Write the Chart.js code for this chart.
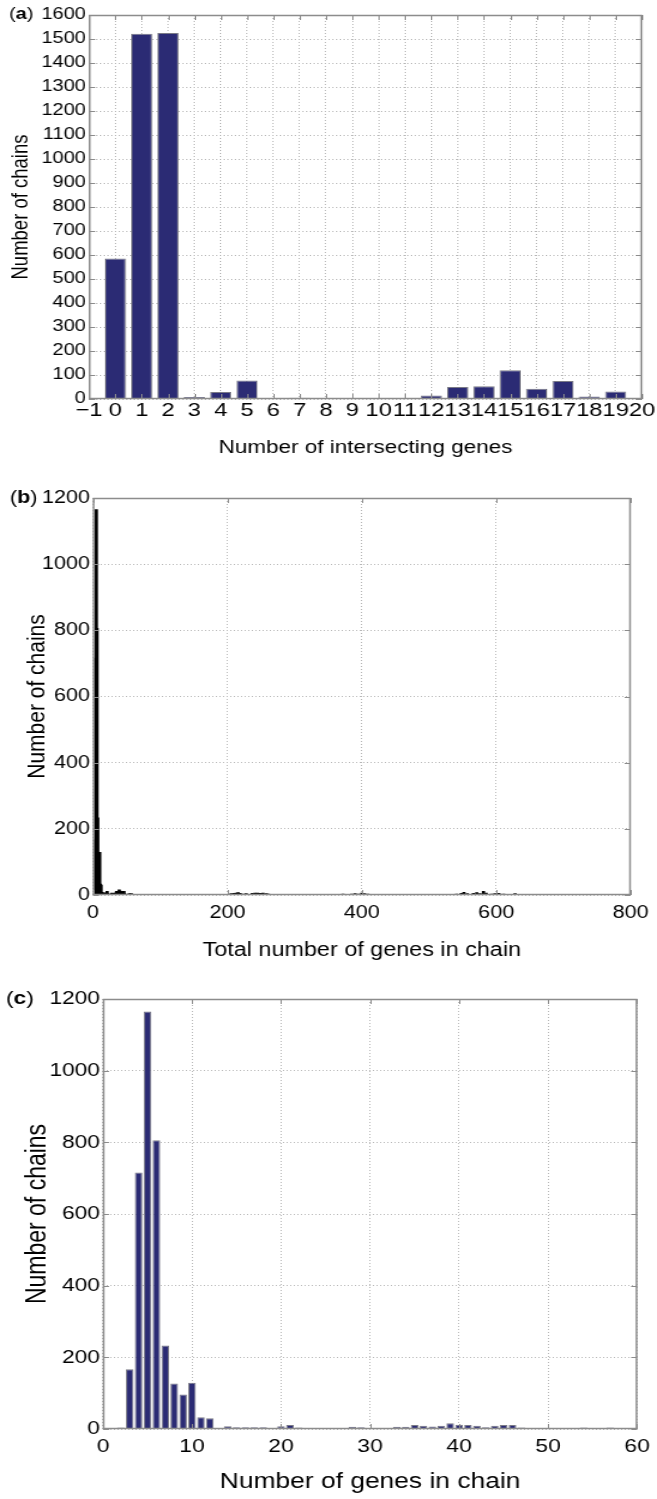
<!DOCTYPE html>
<html>
<head>
<meta charset="utf-8">
<script src="https://cdn.jsdelivr.net/npm/chart.js@4.4.1/dist/chart.umd.min.js"></script>
<style>
  body { margin: 0; background: #fff; }
  #page { position: relative; width: 657px; height: 1499px; }
  /* the original figure is stretched horizontally, so each canvas is drawn narrow and widened by CSS */
  canvas { position: absolute; left: 0; width: 657px; }
</style>
</head>
<body>
<div id="page">
  <canvas id="chart-a" width="526" height="470" style="top:0px; width:657px; height:470px"></canvas>
  <canvas id="chart-b" width="548" height="500" style="top:470px; width:657px; height:500px"></canvas>
  <canvas id="chart-c" width="548" height="529" style="top:970px; width:657px; height:529px"></canvas>
</div>
<script>
//////////////////////////////////////////////////
// Data

// (a) chains by number of intersecting genes
const intersectGenes = [0, 1, 2, 3, 4, 5, 6, 7, 8, 9, 10, 11, 12, 13, 14, 15, 16, 17, 18, 19, 20]
const intersectChains = [585, 1522, 1525, 8, 29, 77, 0, 5, 0, 0, 0, 0, 15, 50, 53, 120, 43, 75, 10, 31, 4]

// (c) chains by number of genes in chain (also the left part of (b))
const chainGenes = [2, 3, 4, 5, 6, 7, 8, 9, 10, 11, 12, 13, 14, 15, 16, 17, 18, 19, 20, 21, 22, 23, 24, 25, 26, 27, 28, 29,
  30, 31, 32, 33, 34, 35, 36, 37, 38, 39, 40, 41, 42, 43, 44, 45, 46, 47, 48, 49, 50, 51, 52, 53, 54, 55, 56, 57]
const chainCounts = [4, 167, 716, 1165, 806, 233, 127, 96, 129, 33, 30, 3, 8, 5, 5, 5, 5, 0, 8, 11, 4, 3, 0, 0, 0, 0, 6, 5,
  0, 0, 1, 6, 6, 11, 9, 7, 9, 16, 12, 11, 9, 5, 9, 11, 11, 4, 1, 2, 1, 1, 2, 2, 4, 1, 2, 4]

// (b) long tail of total number of genes in chain
const tailGenes = [168, 184, 203, 206, 210, 213, 216, 219, 224, 228, 237, 241, 245, 249, 253, 258, 261, 274, 280, 285,
  366, 372, 378, 385, 390, 395, 400, 404, 409, 415, 423, 432, 437,
  541, 548, 552, 557, 566, 571, 576, 581, 585, 593, 598, 604, 611, 618, 628, 646, 650]
const tailCounts = [2, 1, 3, 4, 5, 6, 7, 5, 3, 4, 5, 6, 6, 5, 6, 4, 3, 2, 1, 2,
  2, 3, 2, 3, 4, 3, 6, 4, 3, 2, 2, 1, 2,
  3, 5, 8, 4, 5, 7, 4, 11, 6, 3, 4, 5, 3, 2, 4, 2, 2]

//////////////////////////////////////////////////
// Styling

const FONT = "'Liberation Sans', Arial, Helvetica, sans-serif"
const BAR_BLUE = '#2b2b74'
const BAR_EDGE = '#7a7a86'
const GRID = '#b8b8b8'
const FRAME = '#8c8c8c'
const PAGE_W = 657

// MATLAB-like box with inward tick marks
const framePlugin = {
  id: 'frame',
  afterDatasetsDraw(chart) {
    const { ctx, chartArea: a, scales: { x, y } } = chart
    ctx.save()
    ctx.strokeStyle = FRAME
    ctx.lineWidth = 1
    ctx.beginPath()
    for (const t of x.ticks) {
      const px = Math.round(x.getPixelForValue(t.value)) + 0.5
      ctx.moveTo(px, a.bottom); ctx.lineTo(px, a.bottom - 5)
      ctx.moveTo(px, a.top); ctx.lineTo(px, a.top + 5)
    }
    for (const t of y.ticks) {
      const py = Math.round(y.getPixelForValue(t.value)) + 0.5
      ctx.moveTo(a.left, py); ctx.lineTo(a.left + 5, py)
      ctx.moveTo(a.right, py); ctx.lineTo(a.right - 5, py)
    }
    ctx.stroke()
    ctx.lineWidth = 1.5
    ctx.strokeRect(a.left + 0.5, a.top + 0.5, a.right - a.left - 1, a.bottom - a.top - 1)
    ctx.restore()
  }
}

// "(a)" style panel label with a bold letter
const panelLabelPlugin = {
  id: 'panelLabel',
  afterDraw(chart, args, opts) {
    const { ctx } = chart
    ctx.save()
    ctx.fillStyle = '#000'
    ctx.textBaseline = 'middle'
    let x = opts.x
    for (const [s, w] of [['(', 'normal'], [opts.letter, 'bold'], [')', 'normal']]) {
      ctx.font = `${w} ${opts.size}px ${FONT}`
      ctx.fillText(s, x, opts.y)
      x += ctx.measureText(s).width
    }
    ctx.restore()
  }
}

const toPoints = (xs, ys) => xs.map((x, i) => ({ x, y: ys[i] }))
const numLabel = (v) => String(v).replace('-', '\u2212')

// geometry (left, right, labelX, yTitleX) is given in page pixels and squeezed into canvas pixels
const makePanel = (id, p) => {
  const canvas = document.getElementById(id)
  const sx = PAGE_W / canvas.width
  const left = p.left / sx
  const right = p.right / sx
  const yTitleLh = p.yTitleSize * 1.2
  return new Chart(canvas, {
    type: 'bar',
    plugins: [framePlugin, panelLabelPlugin],
    data: {
      datasets: [{
        data: p.data,
        backgroundColor: p.fill,
        borderColor: p.edge,
        borderWidth: p.edgeWidth,
        barPercentage: p.barPct,
        categoryPercentage: 1,
        barThickness: p.thickness
      }]
    },
    options: {
      responsive: false,
      animation: false,
      layout: { padding: { top: p.top, right: canvas.width - right, left: 0, bottom: 0 } },
      plugins: {
        legend: { display: false },
        tooltip: { enabled: false },
        panelLabel: { letter: p.letter, x: p.labelX / sx, y: p.top, size: p.labelSize }
      },
      scales: {
        x: {
          type: 'linear',
          offset: false,
          min: p.xMin,
          max: p.xMax,
          afterFit: (s) => { s.height = canvas.height - p.bottom },
          grid: { color: GRID, offset: false, drawTicks: false },
          border: { display: false, dash: [1, 2] },
          ticks: {
            stepSize: p.xStep,
            autoSkip: false,
            maxRotation: 0,
            padding: p.xTickPad,
            color: '#000',
            font: { family: FONT, size: p.xTickSize },
            callback: numLabel
          },
          title: {
            display: true,
            text: p.xTitle,
            color: '#000',
            font: { family: FONT, size: p.xTitleSize },
            padding: { top: 0, bottom: p.xTitlePad }
          }
        },
        y: {
          min: 0,
          max: p.yMax,
          afterFit: (s) => { s.width = left },
          grid: { color: GRID, drawTicks: false },
          border: { display: false, dash: [1, 2] },
          ticks: {
            stepSize: p.yStep,
            autoSkip: false,
            padding: 2.5,
            color: '#000',
            font: { family: FONT, size: p.yTickSize },
            callback: numLabel
          },
          title: {
            display: true,
            text: 'Number of chains',
            color: '#000',
            font: { family: FONT, size: p.yTitleSize },
            padding: { top: p.yTitleX / sx - yTitleLh / 2, bottom: 0 }
          }
        }
      }
    }
  })
}

//////////////////////////////////////////////////
// Panels

makePanel('chart-a', {
  letter: 'a', labelX: 9, labelSize: 16,
  data: toPoints(intersectGenes, intersectChains),
  fill: BAR_BLUE, edge: BAR_EDGE, edgeWidth: 1, barPct: 0.8,
  top: 15, bottom: 399, left: 89, right: 642,
  xMin: -1, xMax: 20, xStep: 1, yMax: 1600, yStep: 100,
  yTickSize: 16, xTickSize: 19, xTickPad: 0,
  xTitle: 'Number of intersecting genes', xTitleSize: 18, xTitlePad: 11,
  yTitleSize: 18.5, yTitleX: 21
})

makePanel('chart-b', {
  letter: 'b', labelX: 10, labelSize: 18,
  data: toPoints(chainGenes.concat(tailGenes), chainCounts.concat(tailCounts)),
  fill: '#000', edge: '#000', edgeWidth: 0, barPct: 1, thickness: 2,
  top: 28, bottom: 425, left: 93, right: 636,
  xMin: 0, xMax: 800, xStep: 200, yMax: 1200, yStep: 200,
  yTickSize: 18, xTickSize: 18, xTickPad: 7,
  xTitle: 'Total number of genes in chain', xTitleSize: 19.5, xTitlePad: 8,
  yTitleSize: 21, yTitleX: 37
})

makePanel('chart-c', {
  letter: 'c', labelX: 6, labelSize: 19,
  data: toPoints(chainGenes, chainCounts),
  fill: BAR_BLUE, edge: BAR_EDGE, edgeWidth: 1, barPct: 0.85,
  top: 29, bottom: 459, left: 103, right: 642,
  xMin: 0, xMax: 60, xStep: 10, yMax: 1200, yStep: 200,
  yTickSize: 19, xTickSize: 19, xTickPad: 6,
  xTitle: 'Number of genes in chain', xTitleSize: 22, xTitlePad: 4,
  yTitleSize: 23, yTitleX: 38
})
</script>
</body>
</html>
